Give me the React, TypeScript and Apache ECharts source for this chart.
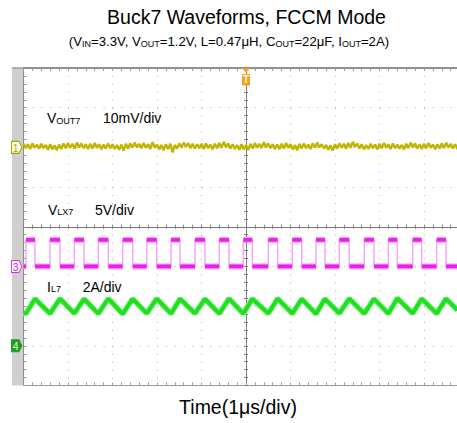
import React, { useEffect, useRef } from 'react';
import * as echarts from 'echarts';

const FONT = '"Liberation Sans", Arial, Helvetica, sans-serif';

const titleText = 'Buck7 Waveforms, FCCM Mode';
const xAxisTitle = 'Time(1μs/div)';

// Time axis in μs (1 μs/div), trigger at 0
const timeMin = -5;
const timeMax = 5;
const timeEnd = 4.75;
// Vertical axis in divisions from screen centre
const divMin = -4;
const divMax = 4;

// Channel ground markers (div) and vertical scales
const ch1Ground = 2;
const ch3Ground = -1;
const ch4Ground = -3;
const voutPerDiv = 10; // mV/div
const vlxPerDiv = 5; // V/div
const ilPerDiv = 2; // A/div

// VOUT7 ripple/noise samples (mV), one every 0.05 μs starting at -5 μs
const voutSampleStep = 0.05;
const voutSamples = [
  0.9, -0.2, 0.8, -0.4, 1.0, -0.1, 0.7, -0.3, 0.9, -0.2,
  0.6, -0.6, 0.8, -0.5, 0.5, -0.7, 0.7, -0.4, 1.0, -0.2,
  1.1, -0.1, 0.9, -0.3, 1.2, 0.0, 1.0, -0.2, 0.8, -0.4,
  0.9, -0.3, 1.1, -0.1, 0.8, -0.5, 0.7, -0.3, 1.0, -0.2,
  0.8, -0.4, 0.6, -0.6, 0.7, -0.8, 0.9, -0.3, 1.0, -0.1,
  1.2, 0.0, 0.9, -0.2, 1.1, -0.1, 0.8, -0.4, 1.3, -0.1,
  0.7, -0.5, 0.6, -0.7, 0.8, -0.4, 0.9, -1.3, 0.6, -0.3,
  1.0, -0.1, 1.2, 0.1, 1.1, -0.2, 0.9, -0.3, 0.8, -0.2,
  0.9, -0.4, 1.0, -0.2, 0.7, -0.5, 0.9, -0.2, 1.1, -0.1,
  1.4, 0.0, 1.0, -0.3, 0.8, -0.4, 0.6, -0.6, 0.8, -0.5,
  0.6, -0.6, 0.9, -0.3, 1.1, -0.1, 0.9, -0.2, 1.3, 0.0,
  1.0, -0.2, 0.8, -0.4, 0.7, -0.5, 0.9, -0.3, 1.1, -0.1,
  0.8, -0.5, 0.6, -0.7, 0.9, -0.3, 1.0, -0.2, 0.7, -0.4,
  1.0, -0.1, 1.2, 0.0, 0.8, -0.3, 0.6, -0.6, 0.5, -0.8,
  0.8, -0.3, 1.0, -0.1, 0.9, -0.3, 1.1, -0.1, 1.4, 0.1,
  1.0, -0.3, 0.8, -0.5, 0.6, -0.4, 0.9, -0.2, 0.7, -0.5,
  0.9, -0.2, 1.1, -0.1, 0.8, -0.4, 1.0, -0.2, 0.7, -0.3,
  0.6, -0.5, 0.9, -0.2, 1.2, 0.0, 1.0, -0.3, 0.8, -0.4,
  0.9, -0.2, 1.1, -0.1, 0.7, -0.5, 0.8, -0.3, 1.0, -0.2,
  1.2, -0.1, 0.9, -0.3, 0.8, -0.4, 1.0,
];

// VLX7 switching edges (μs)
const vlxRiseTimes = [
  -4.944, -4.404, -3.858, -3.319, -2.771, -2.231, -1.685, -1.146, -0.6,
  -0.061, 0.501, 1.04, 1.573, 2.097, 2.658, 3.198, 3.746, 4.285,
];
const vlxFallTimes = [
  -4.742, -4.18, -3.64, -3.094, -2.546, -2.007, -1.483, -0.921, -0.382,
  0.142, 0.712, 1.252, 1.775, 2.321, 2.876, 3.4, 3.948, 4.494,
];
const vlxHigh = 3.35; // V
const vlxLow = 0; // V

// IL7 valleys (at VLX rising edges) and peaks (at VLX falling edges), A
const ilValleys = [
  1.63, 1.62, 1.63, 1.62, 1.61, 1.63, 1.62, 1.63, 1.62,
  1.62, 1.63, 1.62, 1.61, 1.63, 1.62, 1.62, 1.63, 1.62,
];
const ilPeaks = [
  2.37, 2.38, 2.36, 2.38, 2.37, 2.38, 2.37, 2.36, 2.38,
  2.37, 2.38, 2.36, 2.37, 2.38, 2.37, 2.4, 2.37, 2.38,
];
const ilStart = 1.66;
const ilEnd = 1.8;

// channel labels
const ch1Name = ['V', 'OUT7', '10mV/div'];
const ch3Name = ['V', 'LX7', '5V/div'];
const ch4Name = ['I', 'L7', '2A/div'];

export default function App() {
  const ref = useRef<HTMLDivElement>(null);

  useEffect(() => {
    if (!ref.current) return;
    const chart = echarts.init(ref.current, undefined, { renderer: 'svg' });

    const toCh1 = (mv: number) => ch1Ground + mv / voutPerDiv;
    const toCh3 = (v: number) => ch3Ground + v / vlxPerDiv;
    const toCh4 = (a: number) => ch4Ground + a / ilPerDiv;

    const voutData = voutSamples.map((v, i) => [timeMin + i * voutSampleStep, toCh1(v)]);

    const flats: any[] = [];
    const edges: any[] = [];
    let prev = timeMin;
    vlxRiseTimes.forEach((r, i) => {
      const f = vlxFallTimes[i];
      flats.push([prev, toCh3(vlxLow)], [r, toCh3(vlxLow)], [r, null]);
      flats.push([r, toCh3(vlxHigh)], [f, toCh3(vlxHigh)], [f, null]);
      edges.push([r, toCh3(vlxLow)], [r, toCh3(vlxHigh)], [r, null]);
      edges.push([f, toCh3(vlxHigh)], [f, toCh3(vlxLow)], [f, null]);
      prev = f;
    });
    flats.push([prev, toCh3(vlxLow)], [timeEnd, toCh3(vlxLow)]);

    const ilData: number[][] = [[timeMin, toCh4(ilStart)]];
    vlxRiseTimes.forEach((r, i) => {
      ilData.push([r, toCh4(ilValleys[i])]);
      ilData.push([vlxFallTimes[i], toCh4(ilPeaks[i])]);
    });
    ilData.push([timeEnd, toCh4(ilEnd)]);

    const tickStyle = { color: '#9a9a9a', width: 1 };
    const baseX = {
      type: 'value',
      min: timeMin,
      max: timeMax,
      interval: 1,
      axisLabel: { show: false },
      splitLine: { show: false },
    };
    const baseY = {
      type: 'value',
      min: divMin,
      max: divMax,
      interval: 1,
      axisLabel: { show: false },
      splitLine: { show: false },
    };

    const chMarker = (
      y: number,
      label: string,
      fill: string,
      border: string,
      textColor: string
    ) => ({
      coord: [timeMin, y],
      symbol: 'path://M0 0L7.5 0L10.5 6L7.5 12L0 12Z',
      symbolSize: [10.5, 12],
      symbolOffset: [-6.8, 0],
      itemStyle: { color: fill, borderColor: border, borderWidth: 1 },
      label: {
        show: true,
        position: 'inside',
        formatter: label,
        color: textColor,
        fontSize: 10.5,
        fontFamily: FONT,
        offset: [-1, 0.5],
      },
    });

    const subRich = (color: string, big: number, small: number) => ({
      b: { fontSize: big, fontFamily: FONT, fill: color },
      s: { fontSize: small, fontFamily: FONT, fill: color, verticalAlign: 'bottom', lineHeight: 5 },
    });

    const chLabel = (name: string[], x1: number, x2: number, y: number) => [
      {
        type: 'text',
        x: x1,
        y,
        z: 10,
        style: {
          text: `{b|${name[0]}}{s|${name[1]}}`,
          rich: subRich('#000', 14, 9),
          fontSize: 14,
          fontFamily: FONT,
          align: 'left',
          verticalAlign: 'middle',
        },
      },
      {
        type: 'text',
        x: x2,
        y,
        z: 10,
        style: {
          text: name[2],
          fontSize: 14,
          fontFamily: FONT,
          fill: '#000',
          align: 'left',
          verticalAlign: 'middle',
        },
      },
    ];

    chart.setOption({
      animation: false,
      backgroundColor: '#fff',
      grid: {
        left: 23.5,
        top: 68,
        width: 445,
        height: 317.5,
        containLabel: false,
        outerBoundsMode: 'none',
      },
      xAxis: [
        {
          ...baseX,
          position: 'bottom',
          axisLine: { show: true, onZero: false, lineStyle: { color: '#9a9a9a', width: 1 } },
          axisTick: { show: true, inside: true, length: 3, lineStyle: tickStyle },
          minorTick: { show: true, splitNumber: 5, length: 3, lineStyle: tickStyle },
          splitLine: { show: true, lineStyle: { color: '#b0b0b0', width: 1, type: [1, 6.94] } },
        },
        {
          ...baseX,
          position: 'top',
          axisLine: { show: true, onZero: false, lineStyle: { color: '#6e6e6e', width: 1.5 } },
          axisTick: { show: true, inside: true, length: 3, lineStyle: tickStyle },
          minorTick: { show: true, splitNumber: 5, length: 3, lineStyle: tickStyle },
        },
        {
          ...baseX,
          position: 'top',
          axisLine: { show: true, onZero: true, onZeroAxisIndex: 0, lineStyle: { color: '#7a7a7a', width: 1 } },
          axisTick: { show: true, length: 2, lineStyle: { color: '#7a7a7a' } },
          minorTick: { show: true, splitNumber: 5, length: 2, lineStyle: { color: '#7a7a7a' } },
        },
        {
          ...baseX,
          position: 'bottom',
          axisLine: { show: true, onZero: true, onZeroAxisIndex: 0, lineStyle: { color: '#7a7a7a', width: 1 } },
          axisTick: { show: true, length: 2, lineStyle: { color: '#7a7a7a' } },
          minorTick: { show: true, splitNumber: 5, length: 2, lineStyle: { color: '#7a7a7a' } },
        },
      ],
      yAxis: [
        {
          ...baseY,
          position: 'left',
          axisLine: { show: true, onZero: false, lineStyle: { color: '#8a8a8a', width: 1 } },
          axisTick: { show: true, inside: true, length: 3, lineStyle: tickStyle },
          minorTick: { show: true, splitNumber: 5, length: 3, lineStyle: tickStyle },
          splitLine: { show: true, lineStyle: { color: '#b0b0b0', width: 1, type: [1, 7.9] } },
        },
        {
          ...baseY,
          position: 'left',
          axisLine: { show: true, onZero: true, onZeroAxisIndex: 0, lineStyle: { color: '#7a7a7a', width: 1 } },
          axisTick: { show: true, length: 2, lineStyle: { color: '#7a7a7a' } },
          minorTick: { show: true, splitNumber: 5, length: 2, lineStyle: { color: '#7a7a7a' } },
        },
        {
          ...baseY,
          position: 'right',
          axisLine: { show: true, onZero: true, onZeroAxisIndex: 0, lineStyle: { color: '#7a7a7a', width: 1 } },
          axisTick: { show: true, length: 2, lineStyle: { color: '#7a7a7a' } },
          minorTick: { show: true, splitNumber: 5, length: 2, lineStyle: { color: '#7a7a7a' } },
        },
      ],
      series: [
        {
          name: 'VOUT7',
          type: 'line',
          data: voutData,
          showSymbol: false,
          lineStyle: { color: '#c2b500', width: 2.4 },
          z: 3,
          markPoint: {
            silent: true,
            data: [
              chMarker(ch1Ground, '1', '#fffde6', '#a59a00', '#b3a600'),
              {
                coord: [0, divMax],
                symbol: 'path://M0 0L9 0L4.5 4.5Z M0.5 6L8.5 6L8.5 17.5L0.5 17.5Z',
                symbolSize: [9, 17.5],
                symbolOffset: [0, 8.75],
                itemStyle: { color: '#f5a11f' },
                label: {
                  show: true,
                  position: 'inside',
                  formatter: 'T',
                  color: '#fff',
                  fontSize: 10,
                  fontWeight: 'bold',
                  fontFamily: FONT,
                  offset: [0, 3],
                },
              },
            ],
          },
        },
        {
          name: 'VLX7 edges',
          type: 'line',
          data: edges,
          showSymbol: false,
          connectNulls: false,
          lineStyle: { color: '#f7a6f7', width: 1.5 },
          z: 3,
        },
        {
          name: 'VLX7 halo',
          type: 'line',
          data: flats,
          showSymbol: false,
          connectNulls: false,
          lineStyle: { color: '#f6a8f6', width: 6 },
          z: 3,
        },
        {
          name: 'VLX7',
          type: 'line',
          data: flats,
          showSymbol: false,
          connectNulls: false,
          lineStyle: { color: '#ee1fee', width: 3.8 },
          z: 4,
          markPoint: {
            silent: true,
            data: [chMarker(ch3Ground, '3', '#ffffff', '#e02ae0', '#d11fd1')],
          },
        },
        {
          name: 'IL7 halo',
          type: 'line',
          data: ilData,
          showSymbol: false,
          lineStyle: { color: '#9cf09c', width: 6 },
          z: 3,
        },
        {
          name: 'IL7',
          type: 'line',
          data: ilData,
          showSymbol: false,
          lineStyle: { color: '#1fe01f', width: 4 },
          z: 4,
          markPoint: {
            silent: true,
            data: [chMarker(ch4Ground, '4', '#1f9f1f', '#1f9f1f', '#eaffea')],
          },
        },
      ],
      graphic: [
        {
          type: 'rect',
          z: -1,
          shape: { x: 12, y: 68, width: 11.5, height: 317.5 },
          style: { fill: '#cfcfcf' },
        },
        {
          type: 'rect',
          z: -1,
          shape: { x: 12, y: 67.3, width: 11.5, height: 1.5 },
          style: { fill: '#9a9a9a' },
        },
        {
          type: 'text',
          x: 246.5,
          y: 17,
          style: {
            text: titleText,
            fontSize: 19.5,
            fontFamily: FONT,
            fill: '#000',
            align: 'center',
            verticalAlign: 'middle',
          },
        },
        {
          type: 'text',
          x: 229,
          y: 41.5,
          style: {
            text: '{b|(V}{s|IN}{b|=3.3V, V}{s|OUT}{b|=1.2V, L=0.47μH, C}{s|OUT}{b|=22μF, I}{s|OUT}{b|=2A)}',
            rich: subRich('#000', 13.2, 9),
            fontSize: 13.2,
            fontFamily: FONT,
            align: 'center',
            verticalAlign: 'middle',
          },
        },
        {
          type: 'text',
          x: 238,
          y: 407,
          style: {
            text: xAxisTitle,
            fontSize: 19.5,
            fontFamily: FONT,
            fill: '#000',
            align: 'center',
            verticalAlign: 'middle',
          },
        },
        ...chLabel(ch1Name, 47, 103, 118),
        ...chLabel(ch3Name, 48, 95, 209.5),
        ...chLabel(ch4Name, 47, 82.7, 286.5),
      ],
    });

    return () => chart.dispose();
  }, []);

  return (
    <div
      ref={ref}
      style={{ position: 'fixed', left: 0, top: 0, width: 457, height: 423, background: '#fff' }}
    />
  );
}
